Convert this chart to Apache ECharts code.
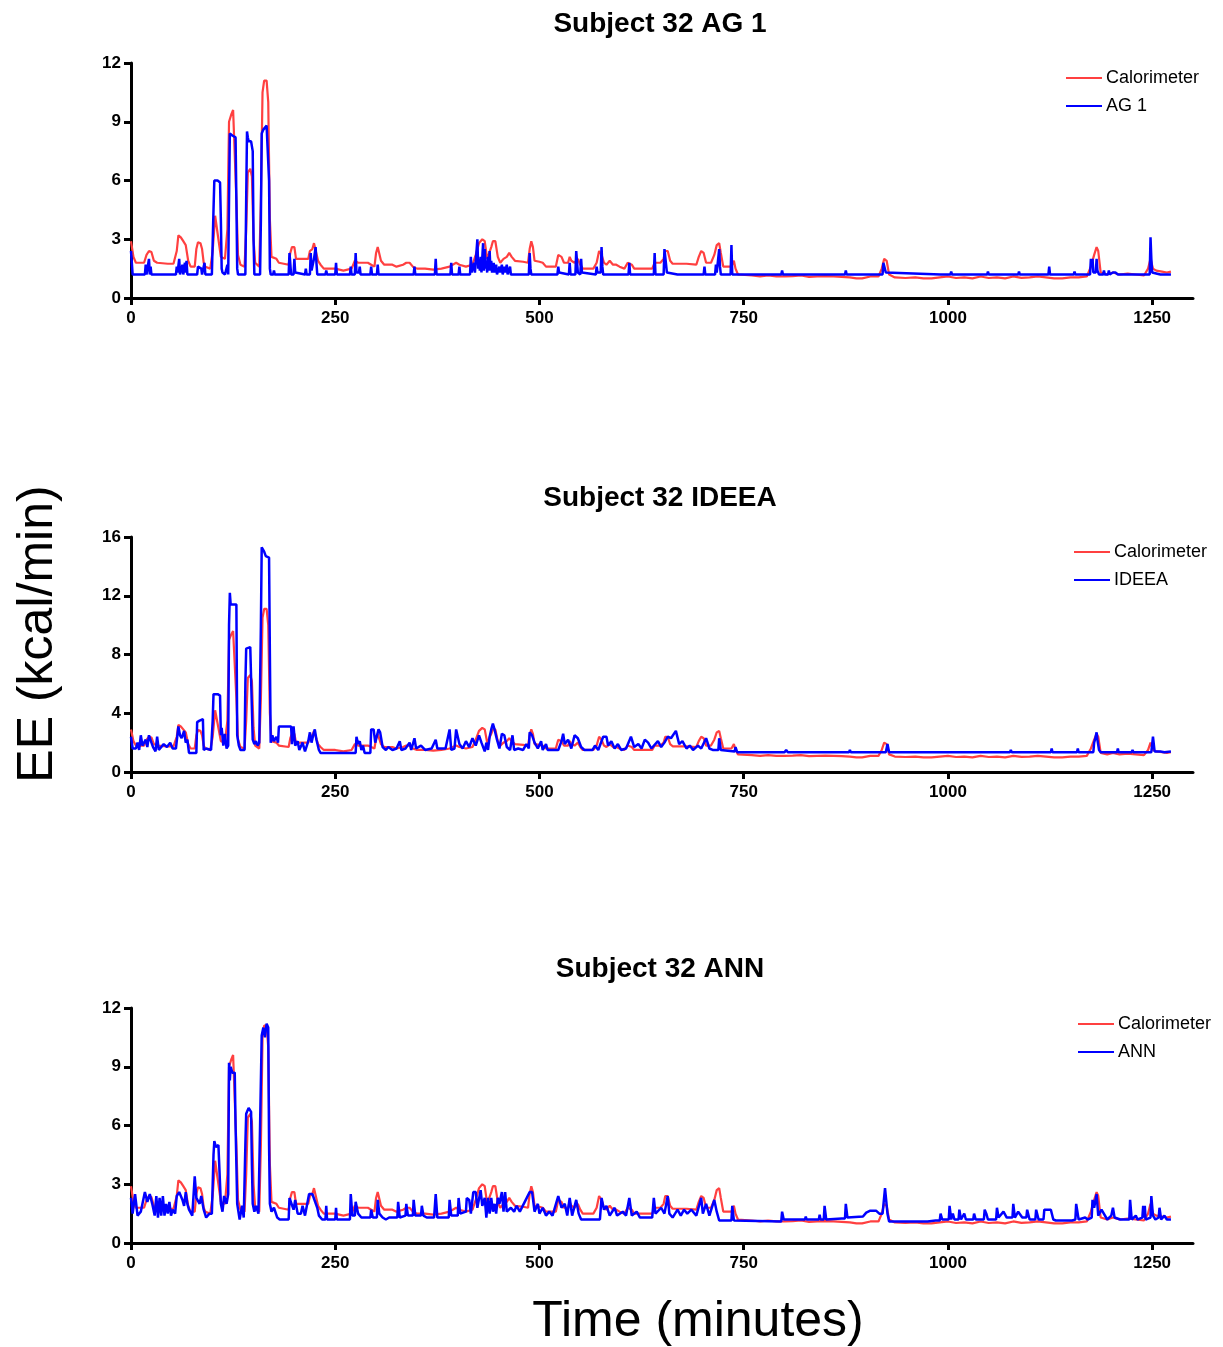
<!DOCTYPE html>
<html>
<head>
<meta charset="utf-8">
<script src="https://cdn.jsdelivr.net/npm/echarts@6/dist/echarts.min.js"></script>
<style>html,body{margin:0;padding:0;background:#fff}#c{width:1223px;height:1347px}</style>
</head>
<body>
<div id="c"></div>
<script>
// ---- DATA ----
const xTicks = [0, 250, 500, 750, 1000, 1250];
const panelTitles = ['Subject 32 AG 1', 'Subject 32 IDEEA', 'Subject 32 ANN'];
const deviceNames = ['AG 1', 'IDEEA', 'ANN'];
const yMax = [12, 16, 12];
const yStep = [3, 4, 3];

const calorimeter = [[0,2.9],[3,2.1],[6,1.8],[16,1.8],[19,2.2],[22,2.4],[25,2.35],[28,1.9],[32,1.8],[45,1.75],[52,1.75],[54,1.65],[56,2.4],[58,3.2],[61,3.1],[64,2.9],[67,2.7],[70,1.9],[73,1.6],[78,1.6],[80,2.5],[82,2.85],[85,2.8],[87,2.5],[89,1.8],[91,1.6],[97,1.5],[100,2.4],[103,4.2],[105,4.1],[107,3.0],[110,2.1],[115,2.0],[118,3.5],[120,9.0],[123,9.4],[125,9.6],[127,9.5],[129,5.0],[131,2.2],[134,1.7],[139,1.6],[141,3.5],[143,6.4],[146,6.6],[148,6.2],[150,3.0],[152,1.8],[157,1.6],[159,5.0],[161,10.5],[163,11.1],[166,11.1],[168,10.0],[170,4.0],[172,2.1],[178,2.0],[181,1.8],[193,1.7],[195,2.3],[197,2.6],[200,2.6],[202,2.0],[217,2.0],[219,2.4],[222,2.5],[224,2.8],[226,2.7],[229,1.9],[232,1.7],[236,1.5],[250,1.5],[260,1.4],[270,1.5],[274,1.9],[278,1.8],[290,1.8],[294,1.7],[298,1.6],[300,2.3],[302,2.6],[304,2.5],[306,1.9],[310,1.7],[320,1.7],[325,1.6],[333,1.7],[337,1.8],[341,1.8],[345,1.6],[350,1.5],[360,1.5],[370,1.45],[380,1.5],[390,1.6],[398,1.8],[402,1.7],[410,1.6],[418,1.7],[422,2.2],[426,2.8],[430,3.0],[433,2.9],[436,2.0],[438,1.9],[441,2.6],[443,2.9],[446,2.9],[449,2.1],[452,1.8],[456,2.0],[460,2.1],[463,2.3],[466,2.1],[470,1.9],[480,1.85],[486,1.8],[488,2.5],[490,2.9],[492,2.6],[494,1.9],[500,1.85],[504,1.8],[508,1.6],[520,1.6],[523,2.2],[525,2.3],[527,2.1],[530,1.8],[535,1.8],[537,2.1],[539,1.9],[543,1.8],[547,2.0],[550,1.7],[553,1.5],[566,1.5],[570,1.8],[573,2.4],[576,2.2],[579,1.8],[582,1.7],[586,1.9],[590,1.7],[594,1.7],[598,1.6],[604,1.5],[608,1.8],[610,1.9],[613,1.7],[616,1.5],[638,1.5],[641,1.8],[648,1.8],[652,2.0],[654,2.4],[657,2.4],[660,1.9],[663,1.75],[680,1.75],[692,1.7],[695,2.1],[698,2.4],[701,2.3],[704,1.8],[710,1.8],[714,2.2],[717,2.7],[720,2.8],[722,2.3],[725,1.6],[735,1.6],[738,1.9],[740,1.5],[743,1.2],[760,1.15],[770,1.1],[780,1.15],[790,1.1],[800,1.1],[810,1.12],[820,1.15],[830,1.08],[840,1.1],[850,1.12],[860,1.1],[870,1.08],[880,1.05],[888,1.0],[895,1.0],[905,1.1],[915,1.1],[919,1.5],[922,2.0],[925,1.9],[928,1.2],[935,1.05],[948,1.02],[960,1.05],[970,1.0],[980,1.0],[990,1.05],[1000,1.1],[1010,1.02],[1020,1.05],[1030,1.0],[1040,1.1],[1050,1.02],[1060,1.05],[1070,1.0],[1080,1.1],[1090,1.03],[1100,1.05],[1110,1.1],[1120,1.05],[1130,1.0],[1140,1.0],[1150,1.05],[1160,1.05],[1170,1.1],[1175,1.6],[1179,2.2],[1182,2.6],[1184,2.4],[1187,1.3],[1195,1.2],[1202,1.3],[1210,1.2],[1220,1.25],[1230,1.2],[1240,1.15],[1245,1.5],[1248,2.0],[1251,1.5],[1255,1.4],[1262,1.35],[1268,1.3],[1273,1.35]];

const ag1 = [[0,2.4],[2,1.2],[17,1.2],[18,1.7],[19,1.2],[21,1.3],[22,2.0],[23,1.2],[24,1.6],[25,1.2],[34,1.2],[35,1.3],[36,1.2],[55,1.2],[56,1.6],[57,1.3],[59,2.0],[60,1.2],[63,1.7],[64,1.2],[66,1.8],[67,1.3],[68,1.9],[69,1.2],[81,1.2],[82,1.6],[84,1.7],[86,1.5],[87,1.2],[89,1.2],[90,1.8],[91,1.2],[99,1.2],[101,4.5],[102,6.0],[104,6.1],[106,6.0],[109,5.9],[110,4.0],[111,1.5],[112,1.3],[113,1.2],[114,1.4],[115,1.2],[117,1.3],[118,1.7],[119,1.2],[120,5.0],[121,8.4],[122,8.5],[124,8.3],[126,8.4],[128,8.2],[129,5.0],[130,1.5],[131,1.2],[140,1.2],[141,5.0],[142,8.5],[143,8.2],[144,8.0],[147,8.0],[149,7.5],[150,3.0],[151,1.2],[158,1.2],[159,4.0],[160,8.4],[162,8.6],[164,8.5],[166,8.8],[168,8.7],[169,6.0],[170,1.5],[171,1.2],[174,1.2],[175,1.4],[176,1.2],[193,1.2],[194,2.3],[195,2.2],[196,1.2],[199,1.2],[200,2.0],[201,1.3],[202,1.2],[213,1.2],[214,1.5],[215,1.2],[219,1.2],[220,2.3],[221,1.4],[223,1.4],[224,2.0],[226,2.6],[227,1.8],[228,1.2],[238,1.2],[239,1.4],[240,1.2],[250,1.2],[251,1.8],[252,1.2],[268,1.2],[269,1.6],[270,1.2],[274,1.2],[275,2.3],[276,1.3],[279,1.3],[280,1.6],[281,1.2],[293,1.2],[294,1.6],[295,1.2],[301,1.2],[302,1.7],[303,1.2],[323,1.2],[324,1.3],[325,1.2],[346,1.2],[347,1.6],[348,1.2],[372,1.2],[373,2.0],[374,1.2],[391,1.2],[392,1.8],[393,1.2],[401,1.2],[402,1.6],[403,1.2],[415,1.2],[416,2.1],[417,1.3],[419,1.2],[420,1.8],[421,1.3],[423,1.4],[424,3.0],[425,1.5],[426,2.0],[427,1.4],[428,2.1],[429,1.3],[431,2.8],[432,1.4],[433,2.5],[434,1.5],[435,1.9],[436,1.3],[437,2.1],[438,1.4],[439,2.4],[440,1.4],[441,1.9],[442,1.3],[444,1.8],[445,1.3],[447,1.7],[448,1.2],[450,1.2],[451,1.6],[452,1.3],[454,1.7],[455,1.2],[457,1.6],[458,1.3],[460,1.7],[461,1.2],[464,1.6],[465,1.2],[487,1.2],[488,2.3],[489,1.5],[490,1.2],[522,1.2],[523,1.6],[524,1.3],[525,1.2],[536,1.2],[537,1.8],[538,1.2],[544,1.2],[545,2.4],[546,2.3],[547,1.3],[550,1.2],[551,2.0],[552,1.3],[553,1.2],[569,1.2],[570,1.6],[571,1.3],[575,1.3],[576,2.6],[577,1.6],[578,1.2],[609,1.2],[610,1.8],[611,1.2],[640,1.2],[641,2.3],[642,1.2],[652,1.2],[653,2.5],[655,2.4],[656,1.3],[657,1.2],[669,1.2],[670,1.3],[671,1.2],[701,1.2],[702,1.6],[703,1.2],[715,1.2],[716,1.7],[717,1.3],[719,1.3],[720,2.5],[721,1.6],[722,1.2],[734,1.2],[735,2.7],[736,1.2],[796,1.2],[797,1.4],[798,1.2],[825,1.2],[826,1.3],[827,1.2],[848,1.2],[849,1.25],[850,1.2],[874,1.2],[875,1.4],[876,1.2],[920,1.2],[921,1.8],[923,1.9],[924,1.3],[925,1.2],[991,1.2],[992,1.3],[993,1.2],[1003,1.2],[1004,1.35],[1005,1.2],[1015,1.2],[1016,1.3],[1017,1.2],[1031,1.2],[1032,1.3],[1033,1.2],[1048,1.2],[1049,1.35],[1050,1.2],[1060,1.2],[1061,1.25],[1062,1.2],[1072,1.2],[1073,1.3],[1074,1.2],[1086,1.2],[1087,1.35],[1088,1.2],[1101,1.2],[1102,1.3],[1103,1.2],[1111,1.2],[1112,1.3],[1113,1.2],[1123,1.2],[1124,1.6],[1125,1.2],[1154,1.2],[1155,1.35],[1156,1.2],[1174,1.2],[1175,2.0],[1176,1.6],[1177,2.0],[1178,1.3],[1181,1.3],[1182,2.0],[1183,1.4],[1185,1.2],[1190,1.2],[1191,1.4],[1192,1.2],[1196,1.2],[1197,1.4],[1198,1.2],[1202,1.3],[1203,1.4],[1205,1.3],[1207,1.4],[1208,1.2],[1221,1.2],[1222,1.3],[1223,1.2],[1237,1.2],[1238,1.3],[1239,1.2],[1247,1.2],[1248,3.1],[1249,2.0],[1250,1.3],[1252,1.3],[1260,1.2],[1273,1.2]];

const ideea = [[0,2.4],[2,1.6],[6,1.6],[8,2.0],[10,1.5],[12,2.5],[14,1.8],[18,2.2],[20,1.7],[22,2.5],[25,2.0],[27,1.7],[30,1.4],[32,2.4],[34,1.5],[36,1.6],[40,1.9],[44,1.7],[48,2.0],[51,1.6],[55,1.6],[58,3.1],[60,2.5],[62,2.3],[65,2.8],[67,2.0],[69,2.2],[71,1.3],[80,1.3],[81,3.4],[84,3.5],[88,3.6],[89,1.5],[92,1.6],[98,1.5],[100,3.5],[101,5.3],[106,5.3],[109,5.2],[110,2.5],[111,3.0],[113,1.8],[115,2.6],[117,1.6],[119,1.8],[120,10.0],[121,12.2],[122,11.4],[129,11.4],[130,2.5],[132,1.8],[134,1.5],[139,1.5],[140,6.0],[141,8.4],[146,8.5],[148,8.4],[149,2.2],[151,1.9],[153,2.1],[155,1.8],[157,2.0],[159,10.0],[160,15.3],[163,15.0],[165,14.7],[169,14.6],[170,8.0],[171,2.0],[173,2.5],[175,2.1],[178,2.4],[180,2.0],[181,3.1],[196,3.1],[197,1.9],[199,3.1],[201,1.8],[204,2.1],[206,1.5],[210,2.0],[213,1.4],[217,2.1],[219,2.7],[221,2.0],[223,2.5],[225,2.9],[227,2.2],[230,1.5],[232,1.3],[275,1.3],[276,2.4],[278,1.9],[280,2.1],[282,1.5],[284,1.8],[286,1.3],[293,1.3],[294,2.9],[297,2.9],[299,2.0],[301,2.0],[303,2.9],[305,2.7],[308,1.7],[312,1.5],[315,1.7],[320,1.5],[325,1.6],[329,2.1],[331,1.5],[336,1.6],[341,2.0],[343,1.5],[347,2.3],[349,1.6],[355,1.8],[360,1.5],[368,1.6],[373,2.2],[375,1.6],[385,1.6],[390,2.9],[392,1.5],[396,1.6],[398,2.9],[400,2.4],[402,1.9],[406,1.6],[410,2.1],[414,1.7],[418,2.3],[422,1.8],[426,2.5],[429,2.0],[433,1.4],[435,2.0],[437,1.5],[439,2.4],[441,2.9],[443,3.3],[445,2.9],[448,2.2],[451,1.6],[454,2.6],[457,2.5],[460,1.7],[464,1.5],[467,2.5],[469,1.5],[474,1.6],[480,1.5],[484,1.9],[487,1.6],[488,2.7],[491,2.5],[494,2.0],[498,1.6],[502,2.1],[504,1.5],[508,1.9],[510,1.5],[523,1.5],[527,2.1],[529,2.6],[531,1.9],[535,2.2],[539,1.6],[543,2.5],[547,2.3],[549,2.3],[551,1.7],[555,1.5],[565,1.5],[568,1.8],[572,1.5],[578,2.4],[582,2.4],[584,1.8],[588,2.1],[592,1.6],[596,1.9],[600,1.5],[606,1.6],[612,2.4],[616,1.7],[621,1.9],[625,1.6],[629,2.2],[633,2.0],[637,1.6],[645,2.1],[649,1.7],[653,2.0],[657,2.4],[661,2.3],[667,2.8],[671,1.9],[675,2.1],[680,1.6],[684,1.8],[688,1.5],[694,1.8],[698,1.6],[704,2.3],[708,1.6],[712,1.5],[719,1.5],[720,2.3],[722,1.5],[739,1.4],[740,1.7],[742,1.35],[800,1.35],[802,1.5],[804,1.35],[844,1.35],[845,1.45],[846,1.35],[879,1.35],[880,1.5],[881,1.35],[924,1.35],[926,1.9],[928,1.35],[950,1.35],[951,1.45],[952,1.35],[985,1.35],[986,1.4],[987,1.35],[1007,1.35],[1008,1.45],[1009,1.35],[1036,1.35],[1037,1.45],[1038,1.35],[1050,1.35],[1051,1.45],[1052,1.35],[1062,1.35],[1063,1.45],[1064,1.35],[1076,1.35],[1077,1.5],[1078,1.35],[1088,1.35],[1089,1.45],[1090,1.35],[1126,1.35],[1127,1.6],[1128,1.35],[1158,1.35],[1159,1.6],[1160,1.35],[1178,1.35],[1179,2.0],[1180,2.2],[1182,2.7],[1183,2.2],[1185,1.5],[1187,1.35],[1207,1.35],[1208,1.6],[1209,1.35],[1225,1.35],[1226,1.5],[1227,1.35],[1249,1.35],[1251,2.4],[1253,1.4],[1260,1.4],[1265,1.35],[1273,1.4]];

const ann = [[0,2.3],[2,1.5],[5,2.5],[8,1.4],[12,1.6],[17,2.6],[20,2.1],[23,2.5],[26,2.0],[29,1.4],[31,2.4],[33,1.3],[35,2.3],[37,1.4],[39,2.4],[41,1.4],[43,2.0],[45,1.5],[47,2.1],[49,1.4],[51,1.7],[54,1.5],[56,2.4],[59,2.6],[61,2.5],[63,2.2],[65,1.9],[67,2.6],[69,2.0],[71,1.7],[75,1.4],[78,3.4],[80,2.3],[84,2.0],[86,2.4],[89,1.7],[92,1.3],[96,1.5],[99,1.5],[101,4.5],[102,5.2],[104,4.9],[107,5.0],[108,5.1],[110,2.0],[112,1.6],[114,2.4],[116,2.4],[117,2.0],[119,2.5],[120,9.2],[121,8.3],[122,9.0],[124,8.7],[127,8.7],[128,6.0],[130,2.0],[133,1.2],[136,1.9],[138,1.3],[140,5.0],[141,6.6],[144,6.9],[147,6.7],[148,4.0],[149,2.0],[151,1.6],[153,1.9],[156,1.5],[158,6.0],[160,10.6],[162,11.0],[164,10.5],[166,11.2],[168,11.0],[169,5.0],[170,2.0],[172,1.6],[175,1.8],[177,1.9],[179,1.3],[182,1.2],[193,1.2],[194,2.3],[196,2.4],[199,1.7],[201,2.2],[204,1.5],[208,1.5],[210,1.9],[213,1.4],[218,2.5],[222,2.5],[224,2.4],[228,1.8],[230,1.4],[234,1.2],[238,1.2],[239,1.9],[240,1.2],[250,1.2],[251,1.8],[252,1.2],[268,1.2],[269,2.5],[271,1.4],[274,1.4],[275,2.1],[278,1.5],[282,1.3],[293,1.3],[294,1.7],[296,1.3],[301,1.3],[302,2.2],[304,1.5],[308,1.3],[312,1.2],[316,1.3],[326,1.3],[327,2.1],[329,1.3],[336,1.4],[337,2.0],[339,1.4],[345,1.4],[346,2.2],[348,1.4],[355,1.4],[356,1.9],[358,1.4],[362,1.3],[371,1.3],[373,2.5],[375,1.3],[389,1.3],[390,2.2],[392,1.4],[400,1.4],[401,2.3],[403,1.5],[410,1.6],[411,2.3],[414,2.2],[416,1.5],[419,2.6],[422,2.6],[424,1.8],[428,2.7],[430,1.9],[433,2.3],[435,1.3],[437,2.3],[439,1.5],[441,2.3],[443,1.6],[445,2.0],[447,1.5],[449,2.3],[451,2.0],[454,2.6],[456,1.6],[458,2.6],[460,1.6],[465,1.8],[469,1.6],[472,1.9],[476,1.6],[488,2.6],[491,2.6],[494,1.6],[498,2.0],[500,1.5],[504,1.8],[508,1.4],[512,1.6],[516,1.4],[523,2.4],[527,1.8],[531,2.0],[534,1.4],[537,2.3],[540,1.4],[545,2.2],[548,1.5],[551,1.2],[574,1.2],[576,2.3],[579,1.7],[582,1.9],[586,1.4],[592,1.8],[595,1.4],[602,1.6],[606,1.4],[610,2.3],[613,1.4],[619,1.6],[623,1.3],[638,1.3],[640,2.3],[642,1.5],[649,1.8],[653,1.5],[657,2.4],[659,1.5],[663,1.3],[669,1.7],[673,1.4],[677,1.7],[681,1.5],[686,1.7],[692,1.4],[698,2.3],[700,1.5],[704,2.0],[708,1.4],[714,2.2],[717,1.6],[720,1.15],[735,1.15],[736,1.9],[738,1.15],[796,1.1],[797,1.6],[799,1.2],[825,1.2],[826,1.35],[827,1.2],[842,1.2],[843,1.45],[844,1.2],[848,1.2],[849,1.9],[851,1.2],[870,1.25],[874,1.25],[875,2.0],[877,1.3],[896,1.35],[900,1.55],[905,1.65],[912,1.65],[916,1.5],[920,1.5],[923,2.8],[926,1.5],[928,1.1],[975,1.1],[985,1.15],[990,1.15],[991,1.5],[993,1.2],[1001,1.2],[1002,1.9],[1004,1.2],[1006,1.5],[1008,1.2],[1013,1.2],[1014,1.7],[1016,1.2],[1020,1.5],[1022,1.2],[1031,1.2],[1032,1.5],[1034,1.2],[1044,1.2],[1045,1.7],[1047,1.5],[1049,1.2],[1059,1.2],[1060,1.8],[1062,1.3],[1068,1.6],[1072,1.3],[1079,1.3],[1080,2.0],[1082,1.3],[1086,1.6],[1091,1.3],[1096,1.3],[1097,1.7],[1100,1.2],[1107,1.2],[1108,1.7],[1111,1.2],[1117,1.2],[1118,1.7],[1122,1.7],[1126,1.7],[1129,1.2],[1132,1.15],[1152,1.15],[1156,1.2],[1157,2.0],[1160,1.2],[1168,1.3],[1169,1.4],[1171,1.2],[1176,1.3],[1177,2.2],[1179,1.8],[1182,2.5],[1184,1.4],[1188,1.7],[1190,1.7],[1195,1.2],[1200,1.4],[1202,1.8],[1204,1.3],[1211,1.2],[1222,1.2],[1223,2.2],[1225,1.2],[1230,1.4],[1232,1.2],[1238,1.3],[1239,1.9],[1240,1.3],[1241,1.9],[1242,1.2],[1248,1.3],[1249,2.4],[1251,1.4],[1254,1.2],[1258,1.3],[1259,1.8],[1261,1.2],[1265,1.4],[1268,1.2],[1273,1.2]];

const deviceData = [ag1, ideea, ann];

// ---- LAYOUT ----
const FONT = 'Liberation Sans, Arial, sans-serif';
const gridTops = [63, 537, 1008];
const titleTops = [5, 479, 950];
const legendPos = [[1066, 69], [1074, 543], [1078, 1015]];
const RED = '#FF4040', BLUE = '#0000FF';

const grids = [], xAxes = [], yAxes = [], series = [], titles = [], legends = [];
for (let i = 0; i < 3; i++) {
  grids.push({ left: 131, right: 30, top: gridTops[i], height: 235, containLabel: false });
  xAxes.push({
    type: 'value', gridIndex: i, min: 0, max: 1300,
    axisLine: { show: true, onZero: false, lineStyle: { color: '#000', width: 3 } },
    axisTick: { show: true, customValues: xTicks, length: 7, lineStyle: { color: '#000', width: 3 } },
    axisLabel: { customValues: xTicks, formatter: function (v) { return String(v); },
      color: '#000', fontWeight: 'bold', fontSize: 17, fontFamily: FONT, margin: 12 },
    splitLine: { show: false }
  });
  yAxes.push({
    type: 'value', gridIndex: i, min: 0, max: yMax[i], interval: yStep[i],
    axisLine: { show: true, onZero: false, lineStyle: { color: '#000', width: 3 } },
    axisTick: { show: true, length: 7, lineStyle: { color: '#000', width: 3 } },
    axisLabel: { color: '#000', fontWeight: 'bold', fontSize: 17, fontFamily: FONT, margin: 10 },
    splitLine: { show: false }
  });
  series.push({
    name: 'Calorimeter', type: 'line', xAxisIndex: i, yAxisIndex: i,
    data: calorimeter, symbol: 'none', showSymbol: false, z: 2,
    lineStyle: { color: RED, width: 2.2 }, itemStyle: { color: RED }
  });
  series.push({
    name: deviceNames[i], type: 'line', xAxisIndex: i, yAxisIndex: i,
    data: deviceData[i], symbol: 'none', showSymbol: false, z: 3,
    lineStyle: { color: BLUE, width: 2.5 }, itemStyle: { color: BLUE }
  });
  titles.push({
    text: panelTitles[i], left: 655, top: titleTops[i], textAlign: 'center',
    textStyle: { fontSize: 28, fontWeight: 'bold', color: '#000', fontFamily: FONT }
  });
  legends.push({
    data: ['Calorimeter', deviceNames[i]], orient: 'vertical',
    left: legendPos[i][0], top: legendPos[i][1], padding: 0,
    icon: 'rect', itemWidth: 36, itemHeight: 2, itemGap: 10,
    textStyle: { fontSize: 18, color: '#000', fontFamily: FONT, padding: [0, 0, 0, -1] }
  });
}

const chart = echarts.init(document.getElementById('c'), null, { renderer: 'canvas' });
chart.setOption({
  animation: false,
  backgroundColor: '#fff',
  title: titles,
  legend: legends,
  grid: grids,
  xAxis: xAxes,
  yAxis: yAxes,
  series: series,
  graphic: [
    { type: 'text', x: 38, y: 634, rotation: Math.PI / 2,
      style: { text: 'EE (kcal/min)', fontSize: 50, fontFamily: FONT, fill: '#000', align: 'center', verticalAlign: 'middle' } },
    { type: 'text', x: 698, y: 1322,
      style: { text: 'Time (minutes)', fontSize: 50, fontFamily: FONT, fill: '#000', align: 'center', verticalAlign: 'middle' } }
  ]
});
</script>
</body>
</html>
